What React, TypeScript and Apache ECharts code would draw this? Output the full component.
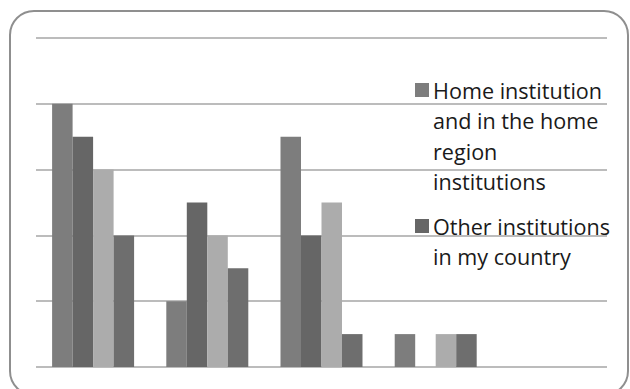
import React, { useEffect, useRef } from "react";
import * as echarts from "echarts";

// Grouped bar chart: where support comes from, four answer groups per category
const categories = ["A", "B", "C", "D", "E"];
const seriesNames = [
  "Home institution and in the home region institutions",
  "Other institutions in my country",
  "Institutions abroad",
  "Other",
];
const homeRegion = [8, 2, 7, 1, 0];
const otherCountry = [7, 5, 4, 0, 0];
const abroad = [6, 4, 5, 1, 0];
const other = [4, 3, 1, 1, 0];
const seriesValues = [homeRegion, otherCountry, abroad, other];
const seriesColors = ["#7d7d7d", "#666666", "#acacac", "#6e6e6e"];

// Only the first two entries are shown in the (clipped) legend
const legendLines = [
  "Home institution\nand in the home\nregion\ninstitutions",
  "Other institutions\nin my country",
];
const legendTops = [75, 211];

export default function App() {
  const ref = useRef<HTMLDivElement>(null);

  useEffect(() => {
    if (!ref.current) return;
    const chart = echarts.init(ref.current, null, { renderer: "svg" });

    const legendGraphics: any[] = [];
    legendLines.forEach((txt, i) => {
      legendGraphics.push({
        type: "rect",
        shape: { x: 415, y: legendTops[i] + 8, width: 14, height: 14 },
        style: { fill: seriesColors[i] },
        z: 10,
      });
      legendGraphics.push({
        type: "text",
        x: 433,
        y: legendTops[i],
        style: {
          text: txt,
          font: '21.6px "Open Sans", sans-serif',
          fill: "#1a1a1a",
          lineHeight: 30.5,
          verticalAlign: "top",
          align: "left",
        },
        z: 10,
      });
    });

    chart.setOption({
      animation: false,
      backgroundColor: "#ffffff",
      grid: { left: 36, right: 23, top: 38, bottom: 22 },
      xAxis: {
        type: "category",
        data: categories,
        axisLine: { show: false },
        axisTick: { show: false },
        axisLabel: { show: false },
      },
      yAxis: {
        type: "value",
        min: 0,
        max: 10,
        interval: 2,
        axisLine: { show: false },
        axisTick: { show: false },
        axisLabel: { show: false },
        splitLine: { lineStyle: { color: "#a6a6a6", width: 1.5 } },
      },
      series: seriesValues.map((vals, i) => ({
        name: seriesNames[i],
        type: "bar",
        data: vals,
        barGap: "0%",
        barCategoryGap: "28.2%",
        itemStyle: { color: seriesColors[i] },
      })),
      graphic: [
        {
          type: "rect",
          shape: { x: 10, y: 11, width: 618, height: 384, r: 24 },
          style: { fill: "none", stroke: "#8f8f8f", lineWidth: 2 },
          z: 0,
        },
        ...legendGraphics,
      ],
    });

    return () => chart.dispose();
  }, []);

  return <div ref={ref} style={{ width: 630, height: 389, position: "absolute", left: 0, top: 0 }} />;
}
